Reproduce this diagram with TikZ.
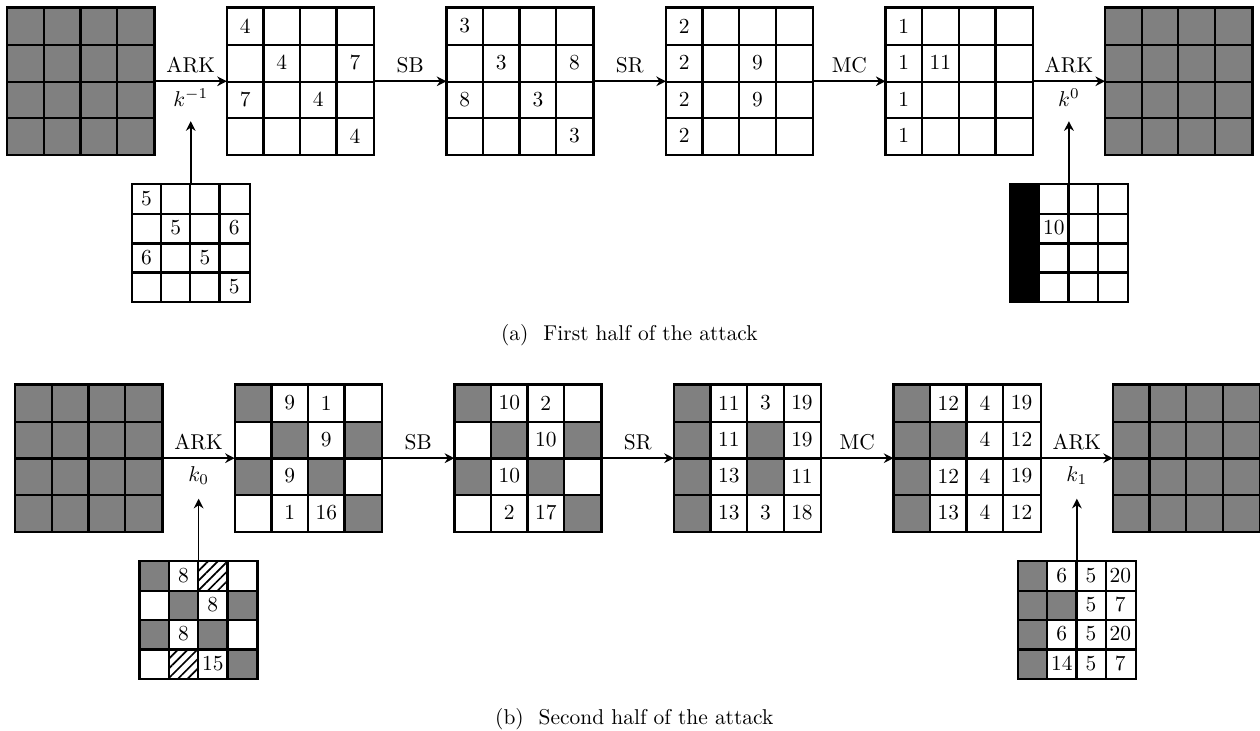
\documentclass[tikz,border=0pt]{standalone}
\usepackage{amsmath,amssymb}
\usepackage{tikz}
\usetikzlibrary{arrows.meta,positioning,calc,patterns,patterns.meta}
\definecolor{cellgray}{RGB}{128,128,128}
\tikzset{
  gc/.style={fill=cellgray},
  bc/.style={fill=black},
  hc/.style={pattern={Lines[angle=45,distance=3.2pt,line width=0.8pt]}},
  nc/.style={},
  gridline/.style={line width=1.1pt},
  flow/.style={thick,-{Stealth[length=4.5pt,width=4.5pt]}}
}
% #1 node options, #2 name, #3 lower left, #4 cell size, #5 row/col/style/text
\newcommand{\stategrid}[5][]{%
  \node[inner sep=0pt, minimum size=4*#4cm, anchor=south west, #1] (#2) at #3 {};
  \foreach \ri/\ci/\cs/\cv in {#5} {
    \node[inner sep=0pt, minimum size=#4cm, \cs]
      at ($(#2.north west)+({(\ci-0.5)*#4},{-(\ri-0.5)*#4})$) {\cv};
  }
  \foreach \i in {1,2,3} {
    \draw[gridline] ($(#2.south west)+(\i*#4,0)$) -- ++(0,4*#4);
    \draw[gridline] ($(#2.south west)+(0,\i*#4)$) -- ++(4*#4,0);
  }
  \draw[gridline] (#2.south west) rectangle (#2.north east);
}

\begin{document}
\begin{tikzpicture}
  \useasboundingbox (0,0) rectangle (20.66,11.98);

  % first half
  \stategrid[fill=cellgray]{a1}{(0.12,9.44)}{0.6}{}
  \stategrid{a2}{(3.72,9.44)}{0.6}{1/1/nc/4, 2/2/nc/4, 2/4/nc/7, 3/1/nc/7, 3/3/nc/4, 4/4/nc/4}
  \stategrid{a3}{(7.32,9.44)}{0.6}{1/1/nc/3, 2/2/nc/3, 2/4/nc/8, 3/1/nc/8, 3/3/nc/3, 4/4/nc/3}
  \stategrid{a4}{(10.92,9.44)}{0.6}{1/1/nc/2, 2/1/nc/2, 3/1/nc/2, 4/1/nc/2, 2/3/nc/9, 3/3/nc/9}
  \stategrid{a5}{(14.52,9.44)}{0.6}{1/1/nc/1, 2/1/nc/1, 3/1/nc/1, 4/1/nc/1, 2/2/nc/11}
  \stategrid[fill=cellgray]{a6}{(18.12,9.44)}{0.6}{}
  \stategrid{ka1}{(2.16,7.03)}{0.48}{1/1/nc/5, 2/2/nc/5, 2/4/nc/6, 3/1/nc/6, 3/3/nc/5, 4/4/nc/5}
  \stategrid{ka2}{(16.56,7.03)}{0.48}{1/1/bc/{}, 2/1/bc/{}, 3/1/bc/{}, 4/1/bc/{}, 2/2/nc/10}

  \draw[flow] (a1.east) -- node[above] {ARK} node[below] (la1) {$k^{-1}$} (a2.west);
  \draw[flow] (a2.east) -- node[above] {SB} (a3.west);
  \draw[flow] (a3.east) -- node[above] {SR} (a4.west);
  \draw[flow] (a4.east) -- node[above] {MC} (a5.west);
  \draw[flow] (a5.east) -- node[above] {ARK} node[below] (la2) {$k^{0}$} (a6.west);
  \draw[flow, shorten >=3pt] (ka1.north) -- (ka1.north |- la1.south);
  \draw[flow, shorten >=3pt] (ka2.north) -- (ka2.north |- la2.south);

  \node[anchor=base] (capa) at (10.32,6.39) {(a)\hspace{0.7em}First half of the attack};

  % second half
  \stategrid[fill=cellgray]{b1}{(0.25,3.26)}{0.6}{}
  \stategrid{b2}{(3.85,3.26)}{0.6}{1/1/gc/{}, 1/2/nc/9, 1/3/nc/1, 2/2/gc/{}, 2/3/nc/9, 2/4/gc/{},
    3/1/gc/{}, 3/2/nc/9, 3/3/gc/{}, 4/2/nc/1, 4/3/nc/16, 4/4/gc/{}}
  \stategrid{b3}{(7.45,3.26)}{0.6}{1/1/gc/{}, 1/2/nc/10, 1/3/nc/2, 2/2/gc/{}, 2/3/nc/10, 2/4/gc/{},
    3/1/gc/{}, 3/2/nc/10, 3/3/gc/{}, 4/2/nc/2, 4/3/nc/17, 4/4/gc/{}}
  \stategrid{b4}{(11.05,3.26)}{0.6}{1/1/gc/{}, 2/1/gc/{}, 3/1/gc/{}, 4/1/gc/{},
    1/2/nc/11, 1/3/nc/3, 1/4/nc/19, 2/2/nc/11, 2/3/gc/{}, 2/4/nc/19,
    3/2/nc/13, 3/3/gc/{}, 3/4/nc/11, 4/2/nc/13, 4/3/nc/3, 4/4/nc/18}
  \stategrid{b5}{(14.65,3.26)}{0.6}{1/1/gc/{}, 2/1/gc/{}, 3/1/gc/{}, 4/1/gc/{},
    1/2/nc/12, 1/3/nc/4, 1/4/nc/19, 2/2/gc/{}, 2/3/nc/4, 2/4/nc/12,
    3/2/nc/12, 3/3/nc/4, 3/4/nc/19, 4/2/nc/13, 4/3/nc/4, 4/4/nc/12}
  \stategrid[fill=cellgray]{b6}{(18.25,3.26)}{0.6}{}
  \stategrid{kb1}{(2.29,0.85)}{0.48}{1/1/gc/{}, 1/2/nc/8, 1/3/hc/{}, 2/2/gc/{}, 2/3/nc/8, 2/4/gc/{},
    3/1/gc/{}, 3/2/nc/8, 3/3/gc/{}, 4/2/hc/{}, 4/3/nc/15, 4/4/gc/{}}
  \stategrid{kb2}{(16.69,0.85)}{0.48}{1/1/gc/{}, 2/1/gc/{}, 3/1/gc/{}, 4/1/gc/{},
    1/2/nc/6, 1/3/nc/5, 1/4/nc/20, 2/2/gc/{}, 2/3/nc/5, 2/4/nc/7,
    3/2/nc/6, 3/3/nc/5, 3/4/nc/20, 4/2/nc/14, 4/3/nc/5, 4/4/nc/7}

  \draw[flow] (b1.east) -- node[above] {ARK} node[below] (lb1) {$k_{0}$} (b2.west);
  \draw[flow] (b2.east) -- node[above] {SB} (b3.west);
  \draw[flow] (b3.east) -- node[above] {SR} (b4.west);
  \draw[flow] (b4.east) -- node[above] {MC} (b5.west);
  \draw[flow] (b5.east) -- node[above] {ARK} node[below] (lb2) {$k_{1}$} (b6.west);
  \draw[flow, shorten >=3pt] (kb1.north) -- (kb1.north |- lb1.south);
  \draw[flow, shorten >=3pt] (kb2.north) -- (kb2.north |- lb2.south);

  \node[anchor=base] (capb) at (10.40,0.10) {(b)\hspace{0.7em}Second half of the attack};
\end{tikzpicture}
\end{document}
